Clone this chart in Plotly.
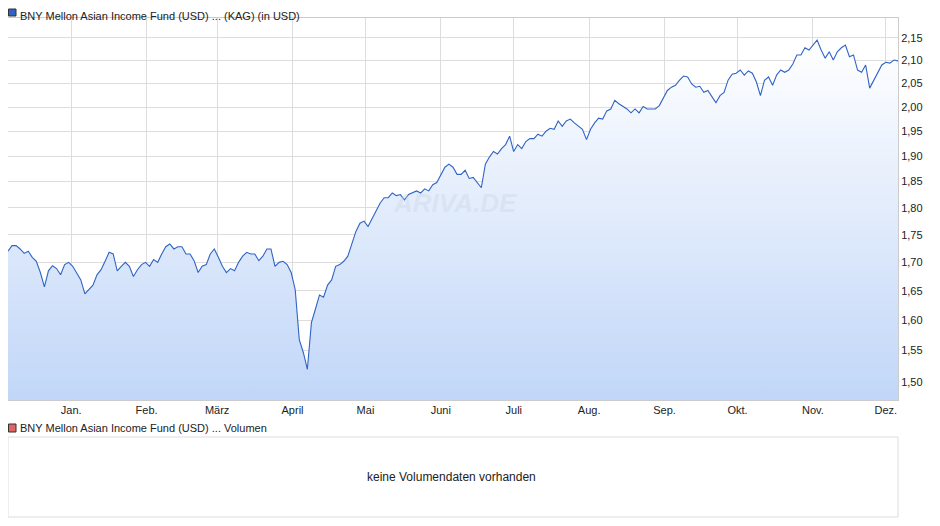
import plotly.graph_objects as go
import pandas as pd

values = [1.720,1.730,1.730,1.724,1.716,1.720,1.709,1.702,1.682,1.657,1.685,1.694,1.689,1.678,1.696,1.700,1.693,1.682,1.669,1.645,1.653,1.660,1.678,1.687,1.702,1.718,1.715,1.685,1.693,1.700,1.693,1.675,1.687,1.696,1.700,1.693,1.705,1.700,1.715,1.728,1.733,1.724,1.728,1.728,1.715,1.715,1.703,1.682,1.693,1.696,1.715,1.724,1.709,1.693,1.682,1.689,1.685,1.700,1.711,1.718,1.715,1.715,1.703,1.711,1.724,1.724,1.693,1.700,1.702,1.696,1.682,1.652,1.568,1.547,1.520,1.596,1.619,1.643,1.639,1.660,1.669,1.693,1.696,1.702,1.711,1.733,1.756,1.771,1.775,1.765,1.780,1.794,1.809,1.819,1.819,1.828,1.823,1.825,1.815,1.825,1.828,1.832,1.828,1.836,1.832,1.844,1.848,1.862,1.878,1.884,1.878,1.864,1.864,1.872,1.856,1.858,1.848,1.838,1.884,1.898,1.909,1.904,1.915,1.923,1.940,1.909,1.923,1.915,1.929,1.935,1.935,1.944,1.940,1.950,1.956,1.954,1.971,1.960,1.971,1.975,1.967,1.960,1.954,1.933,1.954,1.967,1.977,1.975,1.992,1.996,2.014,2.007,2.001,1.996,1.988,1.996,1.988,2.001,1.996,1.996,1.996,2.003,2.018,2.035,2.042,2.046,2.057,2.066,2.064,2.049,2.042,2.044,2.031,2.035,2.022,2.009,2.024,2.031,2.057,2.070,2.072,2.079,2.068,2.077,2.072,2.053,2.024,2.057,2.064,2.046,2.068,2.079,2.074,2.079,2.092,2.112,2.112,2.128,2.123,2.134,2.145,2.123,2.105,2.119,2.101,2.119,2.128,2.134,2.108,2.112,2.079,2.074,2.090,2.040,2.057,2.074,2.090,2.096,2.094,2.101,2.099]
dates = pd.date_range("2023-12-06", "2024-12-06", periods=len(values))

month_ticks = pd.date_range("2024-01-01", "2024-12-01", freq="MS")
month_labels = ["Jan.","Feb.","März","April","Mai","Juni","Juli","Aug.","Sep.","Okt.","Nov.","Dez."]
y_ticks = [1.50,1.55,1.60,1.65,1.70,1.75,1.80,1.85,1.90,1.95,2.00,2.05,2.10,2.15]
y_labels = [f"{v:.2f}".replace(".", ",") for v in y_ticks]

FONT = "Liberation Sans, Arial, sans-serif"
W, H, OFF = 940, 526, 8
px = lambda X: max(0.0, (X - OFF) / W)
py = lambda Y: 1 - (Y - OFF) / H

fig = go.Figure()
fig.add_trace(go.Scatter(x=[dates[0], dates[-1]], y=[1.40, 1.40], mode="lines",
                         line=dict(width=0), showlegend=False, hoverinfo="skip"))
fig.add_trace(go.Scatter(x=dates, y=values, mode="lines", fill="tonexty",
                         line=dict(color="#2f64c4", width=1.1),
                         fillgradient=dict(type="vertical",
                                           colorscale=[[0, "#b9d1f7"], [1, "#ffffff"]]),
                         showlegend=False))

fig.update_layout(
    width=W, height=H, margin=dict(l=0, r=0, t=0, b=0),
    paper_bgcolor="white", plot_bgcolor="white",
    font=dict(family=FONT, size=11, color="#222"),
    xaxis=dict(domain=[px(8), px(898)], range=[dates[0], dates[-1]],
               tickvals=month_ticks, ticktext=month_labels, showgrid=True,
               gridcolor="#dddddd", showline=True, linecolor="#cccccc", mirror=True,
               ticks="", tickfont=dict(size=11)),
    yaxis=dict(domain=[py(400), py(18)], type="log",
               range=[0.1679, 0.3415], side="right", tickvals=y_ticks,
               ticktext=y_labels, showgrid=True, gridcolor="#dddddd",
               showline=True, linecolor="#cccccc", mirror=True, ticks="",
               tickfont=dict(size=11)),
    shapes=[
        dict(type="rect", xref="paper", yref="paper", x0=px(8), x1=px(898),
             y0=py(517), y1=py(437), line=dict(color="#dddddd", width=1)),
        dict(type="rect", xref="paper", yref="paper", x0=px(8.5), x1=px(16),
             y0=py(16), y1=py(9), fillcolor="#2f64c4", line=dict(color="#333", width=1)),
        dict(type="rect", xref="paper", yref="paper", x0=px(8.5), x1=px(16),
             y0=py(432), y1=py(424), fillcolor="#e06666", line=dict(color="#333", width=1)),
    ],
    annotations=[
        dict(text="BNY Mellon Asian Income Fund (USD) ... (KAG) (in USD)", xref="paper", yref="paper",
             x=px(18), y=1, xanchor="left", yanchor="top", showarrow=False,
             font=dict(size=11, color="#222")),
        dict(text="BNY Mellon Asian Income Fund (USD) ... Volumen", xref="paper", yref="paper",
             x=px(18), y=py(428), xanchor="left", yanchor="middle", showarrow=False,
             font=dict(size=11, color="#222")),
        dict(text="keine Volumendaten vorhanden", xref="paper", yref="paper",
             x=px(451), y=py(477), xanchor="center", yanchor="middle", showarrow=False,
             font=dict(size=12, color="#222")),
        dict(text="<b><i>ARIVA.DE</i></b>", xref="paper", yref="paper",
             x=px(455), y=py(203), xanchor="center", yanchor="middle", showarrow=False,
             font=dict(size=26, color="rgba(200,210,225,0.35)")),
    ],
)
fig.write_html("out.html")
